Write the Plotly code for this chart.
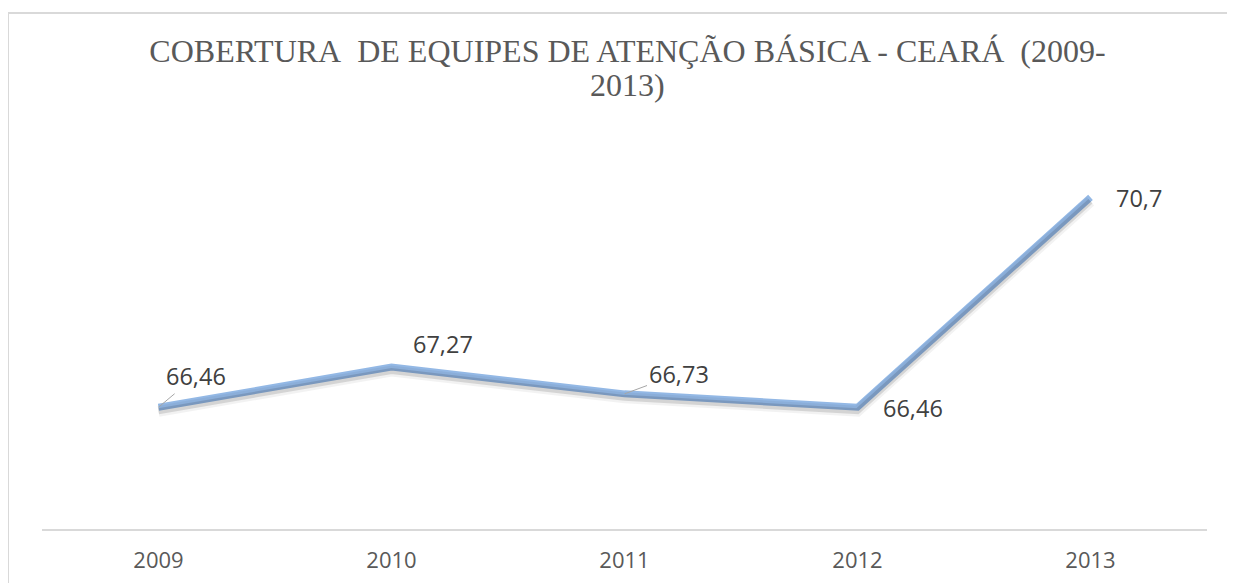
import plotly.graph_objects as go

years = ["2009", "2010", "2011", "2012", "2013"]
coverage = [66.46, 67.27, 66.73, 66.46, 70.7]
labels = ["66,46", "67,27", "66,73", "66,46", "70,7"]
title_line1 = "COBERTURA\u00a0 DE EQUIPES DE ATENÇÃO BÁSICA - CEARÁ\u00a0 (2009-"
title_line2 = "2013)"

# label offsets in pixels (x right, y up) and whether a leader line is used
label_dx = [37, 51, 54, 55, 48]
label_dy = [31, 23, 20, -1, -1]
leader = [True, False, True, False, False]

W, H = 1235, 583
OFF = 8  # page body margin offset
ml, mr, mt, mb = 42 - OFF, 28 + OFF, 133 - OFF, 54 + OFF
y_range = [64, 72]
plot_h = H - mt - mb
plot_w = W - ml - mr
px_per_unit = plot_h / (y_range[1] - y_range[0])
shadow_dy = 4 / px_per_unit

xpos = list(range(len(years)))

fig = go.Figure()
# soft shadow
fig.add_trace(go.Scatter(x=xpos, y=coverage, yaxis="y2", mode="lines",
                         line=dict(color="rgba(0,0,0,0.05)", width=11),
                         hoverinfo="skip", showlegend=False))
fig.add_trace(go.Scatter(x=xpos, y=coverage, yaxis="y2", mode="lines",
                         line=dict(color="rgba(0,0,0,0.12)", width=6),
                         hoverinfo="skip", showlegend=False))
fig.add_trace(go.Scatter(x=xpos, y=coverage, mode="lines",
                         line=dict(color="#93B8E5", width=7),
                         showlegend=False))

font_lbl = dict(family="Open Sans, Liberation Sans, sans-serif", size=23.5, color="#404040")
for xi, v, t, dx, dy, ld in zip(xpos, coverage, labels, label_dx, label_dy, leader):
    if ld:
        fig.add_annotation(x=xi, y=v, text=t, showarrow=True, arrowhead=0,
                           arrowwidth=1, arrowcolor="#A6A6A6", ax=dx, ay=-dy,
                           font=font_lbl, standoff=0)
    else:
        fig.add_annotation(x=xi, y=v, text=t, showarrow=False,
                           xshift=dx, yshift=dy, font=font_lbl)

title_font = dict(family="Liberation Serif, Times New Roman, serif", size=32, color="#595959")
center_x = 627.5 - OFF
fig.add_annotation(text=title_line2, xref="paper", yref="paper", showarrow=False,
                   x=(center_x - ml) / plot_w, y=(H - mb - (85 - OFF)) / plot_h,
                   xanchor="center", yanchor="middle", font=title_font)

fig.add_shape(type="rect", xref="paper", yref="paper",
              x0=(8 - OFF - ml) / plot_w, x1=1.1,
              y0=-0.5, y1=(H - mb - (13 - OFF)) / plot_h,
              line=dict(color="#D9D9D9", width=2), layer="below")

fig.update_layout(
    width=W, height=H,
    margin=dict(l=ml, r=mr, t=mt, b=mb),
    paper_bgcolor="white", plot_bgcolor="white",
    title=dict(text=title_line1, x=center_x / W, xref="container", xanchor="center",
               y=1 - (51 - OFF) / H, yref="container", yanchor="middle",
               font=title_font),
    xaxis=dict(range=[-0.5, len(years) - 0.5], tickmode="array",
               tickvals=xpos, ticktext=years,
               showgrid=False, zeroline=False, showline=True,
               linecolor="#D9D9D9", linewidth=2,
               ticks="outside", ticklen=11, tickcolor="rgba(0,0,0,0)",
               tickfont=dict(family="Open Sans, Liberation Sans, sans-serif",
                             size=22, color="#595959")),
    yaxis=dict(range=y_range, visible=False, showgrid=False, zeroline=False),
    yaxis2=dict(range=[y_range[0] + shadow_dy, y_range[1] + shadow_dy],
                overlaying="y", visible=False, showgrid=False),
)

fig.write_html("out.html")
